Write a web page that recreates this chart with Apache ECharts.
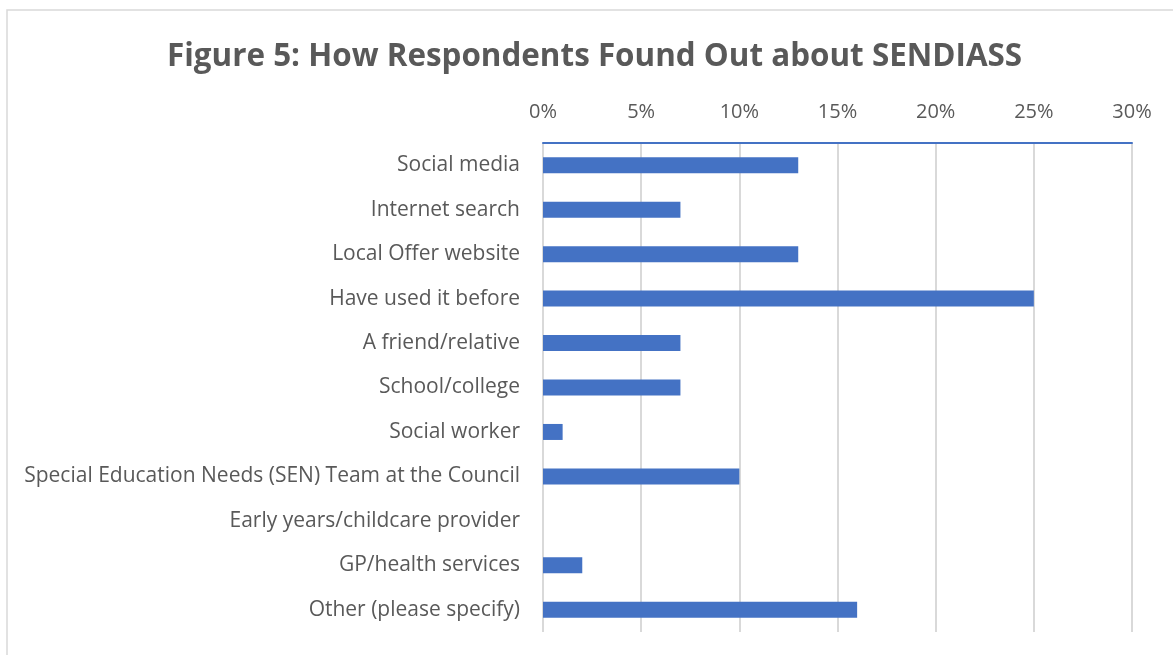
<!DOCTYPE html>
<html><head><meta charset="utf-8">
<script src="https://cdn.jsdelivr.net/npm/echarts@6/dist/echarts.min.js"></script>
<style>html,body{margin:0;padding:0;background:#fff}#c{width:1173px;height:655px}</style>
</head><body><div id="c"></div>
<script>
const categories = ["Social media","Internet search","Local Offer website","Have used it before","A friend/relative","School/college","Social worker","Special Education Needs (SEN) Team at the Council","Early years/childcare provider","GP/health services","Other (please specify)"];
const values = [13, 7, 13, 25, 7, 7, 1, 10, 0, 2, 16];
const titleText = "Figure 5: How Respondents Found Out about SENDIASS";

const chart = echarts.init(document.getElementById('c'));
chart.setOption({
  animation: false,
  backgroundColor: '#fff',
  title: {
    text: titleText, left: 162, top: 37,
    textStyle: {fontFamily: 'Open Sans', fontWeight: 'bold', fontSize: 31.4, color: '#595959'}
  },
  graphic: [{type:'rect', shape:{x:7, y:10, width:1200, height:700}, style:{fill:'none', stroke:'#d9d9d9', lineWidth:1.5}, silent:true}],
  grid: {left: 543, right: 41, top: 143, bottom: 23},
  xAxis: {
    type: 'value', position: 'top', min: 0, max: 30, interval: 5,
    axisLine: {show: true, lineStyle: {color: '#4472c4', width: 2}},
    axisTick: {show: false},
    axisLabel: {formatter: '{value}%', color: '#595959', fontFamily: 'Open Sans', fontSize: 20, margin: 21},
    splitLine: {show: true, lineStyle: {color: '#d9d9d9', width: 2}}
  },
  yAxis: {
    type: 'category', data: categories, inverse: true,
    axisLine: {show: false}, axisTick: {show: false},
    axisLabel: {color: '#595959', fontFamily: 'Open Sans', fontSize: 21, margin: 23}
  },
  series: [{type: 'bar', data: values, barWidth: 16, itemStyle: {color: '#4472c4'}}]
});
</script></body></html>
